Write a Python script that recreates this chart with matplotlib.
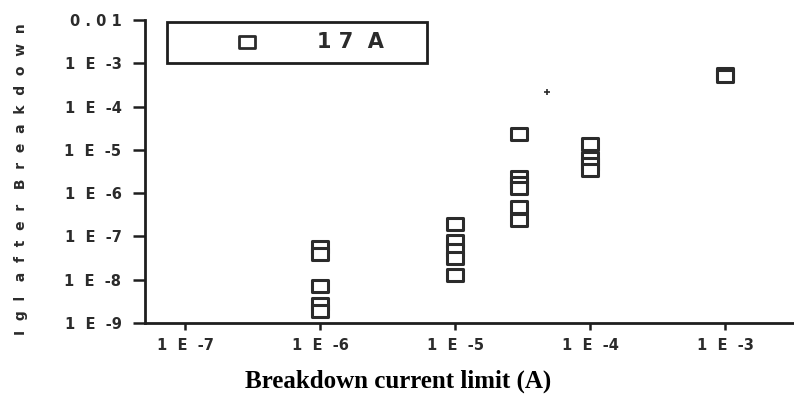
import matplotlib.pyplot as plt
from matplotlib.path import Path
from matplotlib.patches import Rectangle
import numpy as np

# breakdown current limit (A) and gate leakage after breakdown (A)
limit = [1e-6, 1e-6, 1e-6, 1e-6, 1e-6,
         1e-5, 1e-5, 1e-5, 1e-5, 1e-5,
         3e-5, 3e-5, 3e-5, 3e-5, 3e-5, 3e-5,
         1e-4, 1e-4, 1e-4, 1e-4,
         1e-3, 1e-3]
igl = [5.7e-8, 4.0e-8, 7.2e-9, 2.8e-9, 1.9e-9,
       1.9e-7, 7.9e-8, 4.9e-8, 3.2e-8, 1.3e-8,
       2.3e-5, 2.3e-6, 1.7e-6, 1.3e-6, 4.8e-7, 2.4e-7,
       1.4e-5, 6.5e-6, 4.7e-6, 3.4e-6,
       5.8e-4, 5.0e-4]
stray_x = [4.8e-5]
stray_y = [2.2e-4]

xticks = [1e-7, 1e-6, 1e-5, 1e-4, 1e-3]
xticklabels = ['1  E  -7', '1  E  -6', '1  E  -5', '1  E  -4', '1  E  -3']
yticks = [1e-9, 1e-8, 1e-7, 1e-6, 1e-5, 1e-4, 1e-3, 1e-2]
yticklabels = ['1  E  -9', '1  E  -8', '1  E  -7', '1  E  -6', '1  E  -5',
               '1  E  -4', '1  E  -3', '0 . 0 1']
legend_label = '1 7  A'

ink = '#2b2b2b'

# wide open rectangle marker
box = Path([(-1.35, -1), (1.35, -1), (1.35, 1), (-1.35, 1), (-1.35, -1)],
           [Path.MOVETO, Path.LINETO, Path.LINETO, Path.LINETO, Path.CLOSEPOLY])

fig = plt.figure(figsize=(7.94, 3.94), dpi=100)
ax = fig.add_axes([145/794, 1-323/394, (794-145)/794, 303/394])

for xv, yv in zip(limit, igl):
    ax.plot([xv], [yv], marker=box, ms=11, mew=2.2, mec=ink, mfc='white',
            ls='none', zorder=3)
ax.plot(stray_x, stray_y, marker='+', ms=4, mew=1.2, color=ink, ls='none')

ax.set_xscale('log')
ax.set_yscale('log')
ax.set_xlim(10**-7.296, 10**-2.49)
ax.set_ylim(1e-9, 1e-2)
ax.set_xticks(xticks)
ax.set_xticklabels(xticklabels)
ax.set_yticks(yticks)
ax.set_yticklabels(yticklabels)
ax.minorticks_off()

for s in ['top', 'right']:
    ax.spines[s].set_visible(False)
for s in ['left', 'bottom']:
    ax.spines[s].set_linewidth(2)
    ax.spines[s].set_color('#1e1e1e')

ax.tick_params(axis='y', length=9, width=1.8, pad=8, color='#1e1e1e',
               labelsize=10.5, labelcolor=ink)
ax.tick_params(axis='x', length=5, width=1.8, pad=6, color='#1e1e1e',
               labelsize=10.5, labelcolor=ink)
for lab in ax.get_xticklabels() + ax.get_yticklabels():
    lab.set_fontweight('bold')

# legend box
ax.add_patch(Rectangle((0.034, 0.858), 0.40, 0.135, transform=ax.transAxes,
                       fill=False, lw=2, ec='#1e1e1e', clip_on=False))
ax.plot([0.157], [0.926], marker=box, ms=12, mew=2, mec=ink, mfc='white',
        transform=ax.transAxes, clip_on=False)
ax.text(0.316, 0.926, legend_label, transform=ax.transAxes, ha='center',
        va='center', fontsize=15, fontweight='bold', color=ink)

fig.text(0.027, 0.545, 'I  g  l   a  f  t  e  r   B  r  e  a  k  d  o  w  n',
         rotation=90, ha='center', va='center', fontsize=10,
         fontweight='bold', color=ink)
fig.text(0.501, 0.033, 'Breakdown current limit (A)', ha='center', va='center',
         fontsize=18, fontweight='bold', family='Liberation Serif', color='black')

fig.savefig('out.png', dpi=100)
